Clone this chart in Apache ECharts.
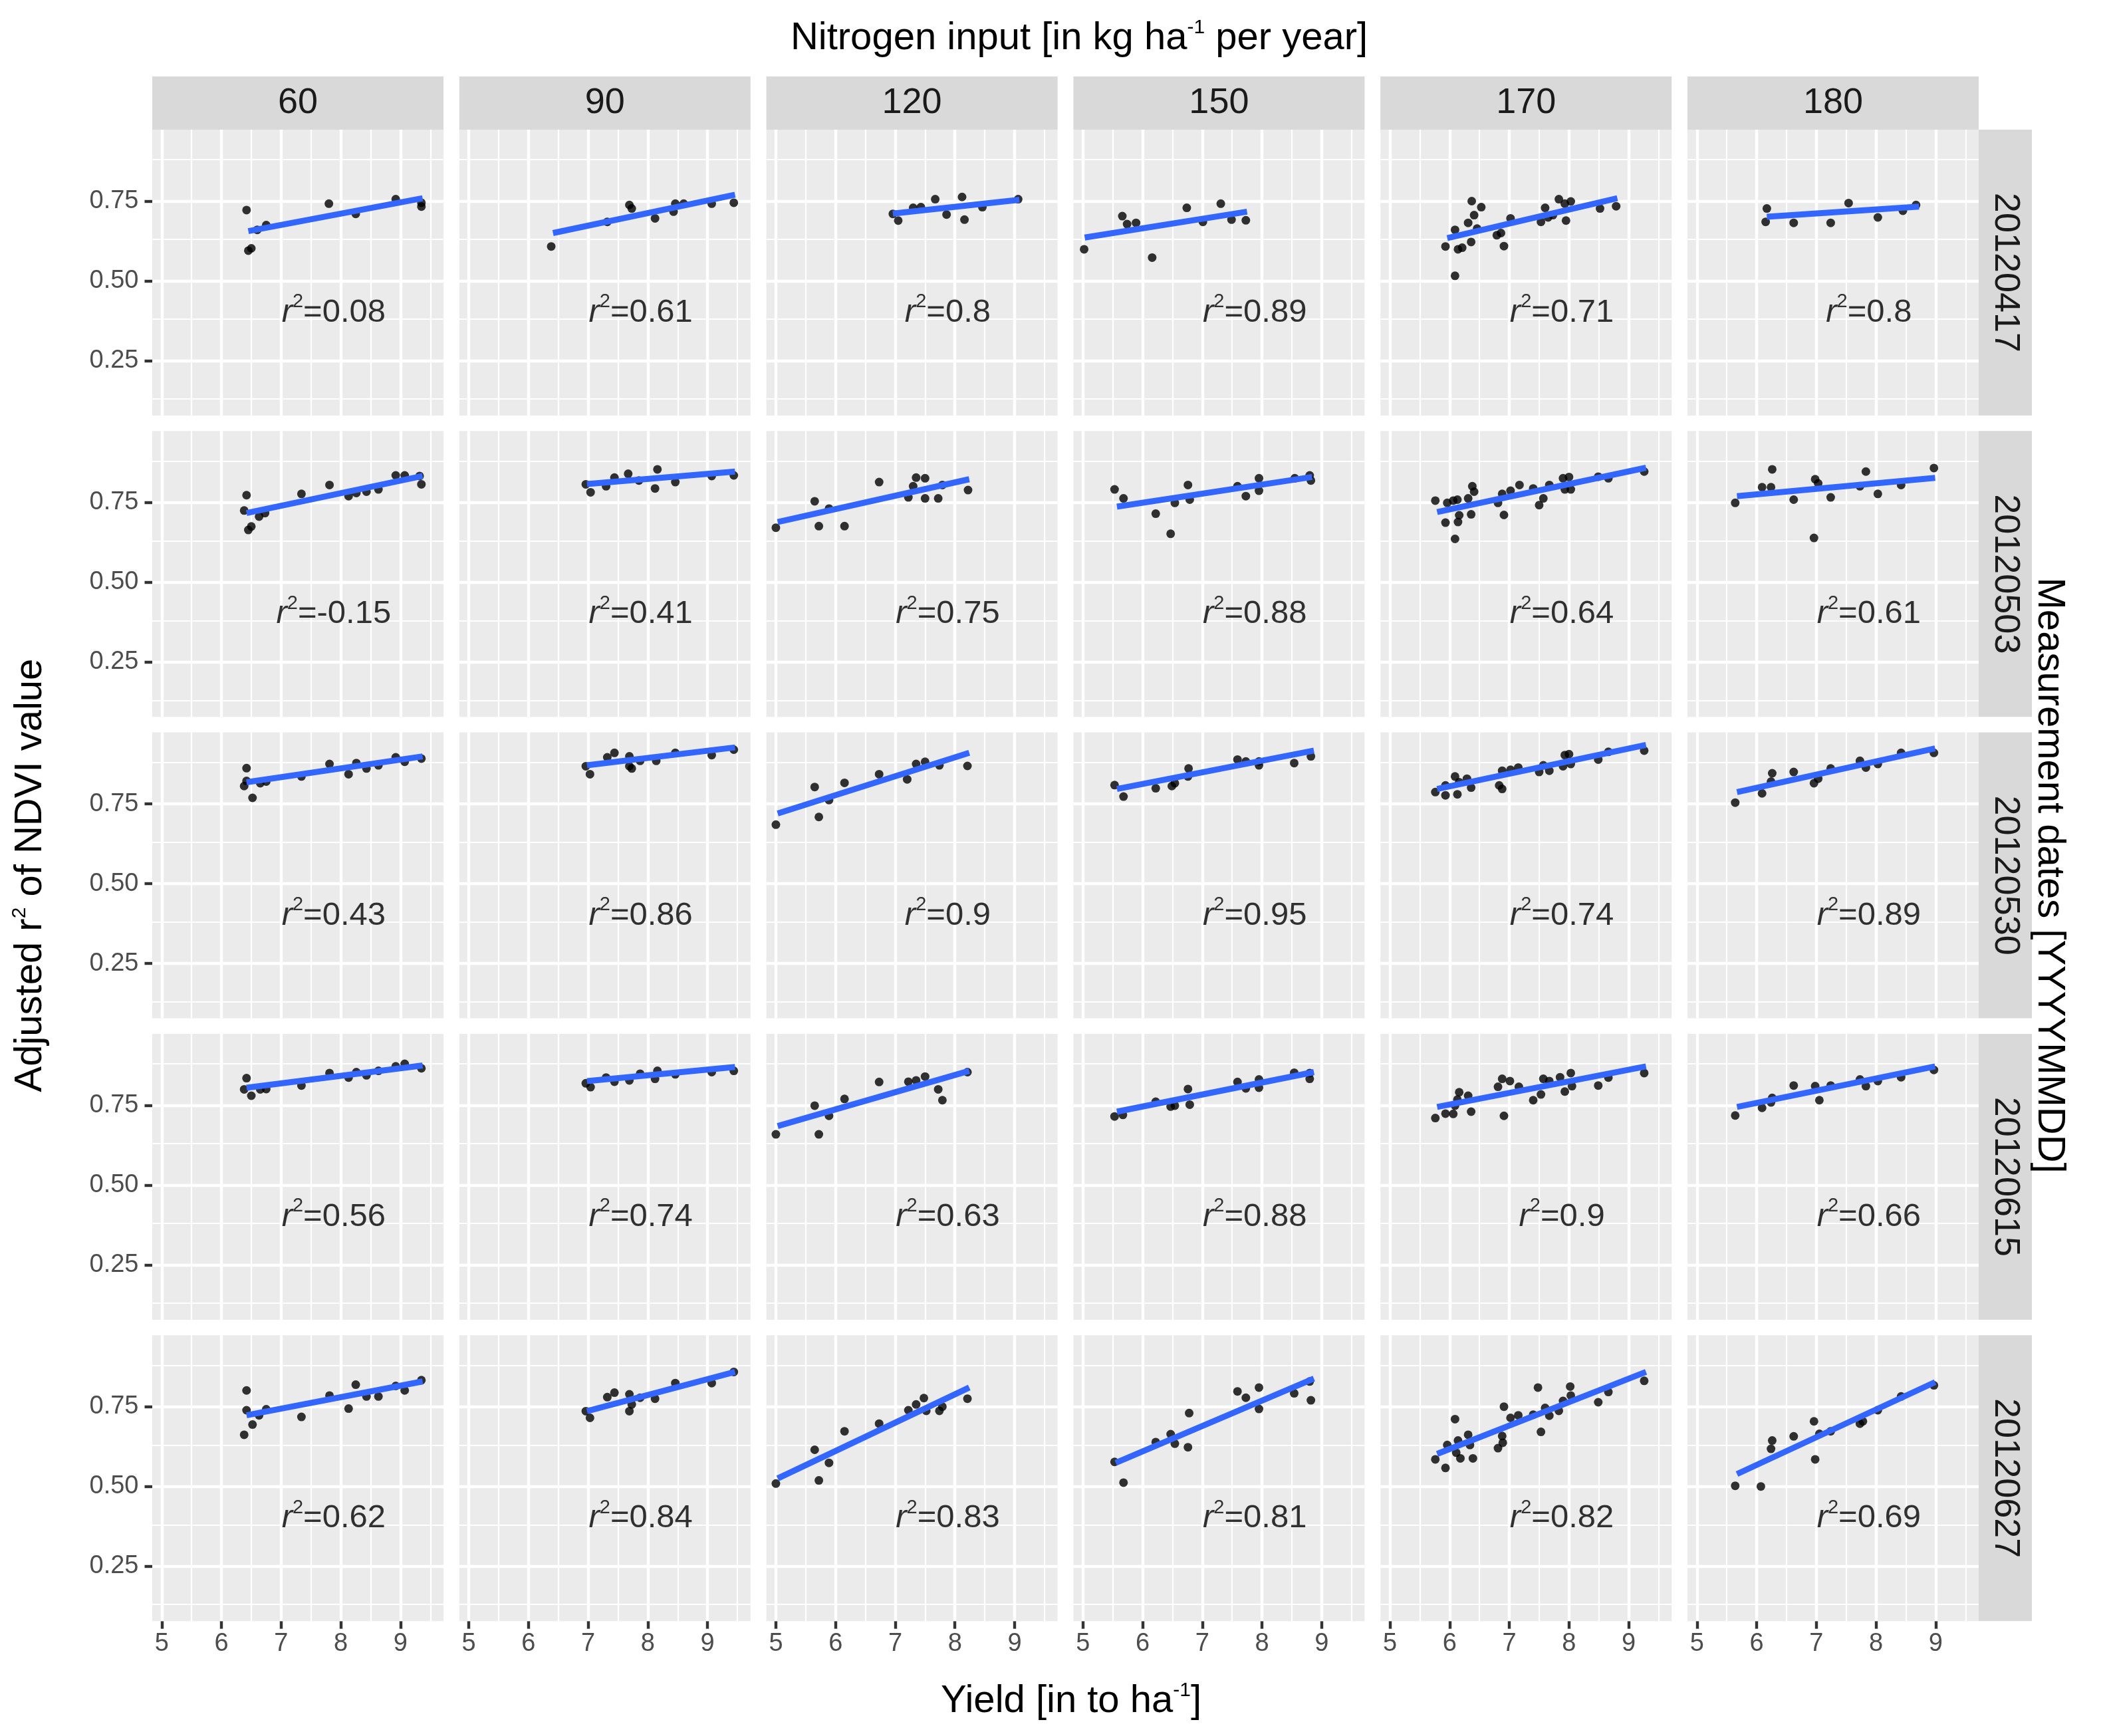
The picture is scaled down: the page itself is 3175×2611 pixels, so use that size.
<!DOCTYPE html>
<html><head><meta charset="utf-8">
<script src="https://cdn.jsdelivr.net/npm/echarts@6/dist/echarts.min.js"></script>
<style>html,body{margin:0;padding:0;background:#fff}#chart{width:3175px;height:2611px}</style>
</head><body><div id="chart"></div>
<script>
const FONT = "'Liberation Sans', Arial, Helvetica, sans-serif";

// ---- categories / ticks ----
const nitrogenLevels = ['60','90','120','150','170','180'];
const measurementDates = ['20120417','20120503','20120530','20120615','20120627'];
const xBreaks = [5,6,7,8,9];
const xMinorBreaks = [5.5,6.5,7.5,8.5,9.5];
const yBreaks = [0.25,0.5,0.75];
const yBreakLabels = ['0.25','0.50','0.75'];
const yMinorBreaks = [0.125,0.375,0.625,0.875];
const xLimits = [4.84, 9.72];
const yLimits = [0.078, 0.974];
const r2Pos = [7.88, 0.40];

// ---- r2 labels ----
const r2_20120417 = ['0.08','0.61','0.8','0.89','0.71','0.8'];
const r2_20120503 = ['-0.15','0.41','0.75','0.88','0.64','0.61'];
const r2_20120530 = ['0.43','0.86','0.9','0.95','0.74','0.89'];
const r2_20120615 = ['0.56','0.74','0.63','0.88','0.9','0.66'];
const r2_20120627 = ['0.62','0.84','0.83','0.81','0.82','0.69'];

// ---- fitted lines [x1,y1,x2,y2] per nitrogen level ----
const fit_20120417 = [[6.45,0.656,9.37,0.759],[6.41,0.650,9.46,0.770],[6.96,0.711,9.08,0.754],[5.03,0.636,7.75,0.717],[5.96,0.634,8.81,0.759],[6.17,0.701,8.72,0.733]];
const fit_20120503 = [[6.42,0.717,9.37,0.833],[6.98,0.808,9.46,0.847],[5.03,0.689,8.24,0.823],[5.57,0.737,8.84,0.830],[5.79,0.720,9.29,0.859],[5.67,0.770,8.99,0.827]];
const fit_20120530 = [[6.42,0.818,9.37,0.899],[6.98,0.871,9.46,0.927],[5.03,0.720,8.24,0.910],[5.57,0.797,8.87,0.917],[5.79,0.797,9.29,0.935],[5.67,0.787,8.99,0.924]];
const fit_20120615 = [[6.42,0.805,9.37,0.875],[6.98,0.826,9.46,0.870],[5.03,0.685,8.24,0.858],[5.57,0.730,8.87,0.854],[5.79,0.745,9.29,0.872],[5.67,0.745,8.99,0.872]];
const fit_20120627 = [[6.42,0.723,9.37,0.829],[6.98,0.736,9.46,0.859],[5.03,0.525,8.24,0.810],[5.55,0.574,8.87,0.838],[5.79,0.602,9.29,0.859],[5.67,0.539,8.99,0.827]];

// ---- points [yield, adjusted r2] ----
const pts_20120417_60 = [[6.42,0.722],[6.45,0.595],[6.50,0.602],[6.60,0.660],[6.75,0.675],[7.80,0.742],[8.25,0.710],[8.92,0.756],[9.35,0.733],[9.35,0.745]];
const pts_20120417_90 = [[6.38,0.608],[7.32,0.685],[7.69,0.738],[7.73,0.727],[8.12,0.696],[8.43,0.717],[8.46,0.742],[8.60,0.742],[9.07,0.742],[9.44,0.745]];
const pts_20120417_120 = [[6.96,0.710],[7.05,0.689],[7.30,0.729],[7.43,0.731],[7.67,0.756],[7.86,0.708],[8.12,0.763],[8.16,0.692],[8.46,0.731],[9.06,0.756]];
const pts_20120417_150 = [[5.02,0.599],[5.66,0.703],[5.74,0.678],[5.89,0.682],[6.16,0.573],[6.74,0.729],[7.01,0.685],[7.31,0.742],[7.49,0.692],[7.73,0.690]];
const pts_20120417_170 = [[5.93,0.608],[6.09,0.660],[6.09,0.516],[6.14,0.599],[6.21,0.604],[6.31,0.682],[6.37,0.750],[6.36,0.622],[6.41,0.706],[6.46,0.664],[6.53,0.731],[6.79,0.643],[6.86,0.650],[6.91,0.609],[7.02,0.696],[7.53,0.685],[7.60,0.729],[7.65,0.699],[7.73,0.706],[7.83,0.756],[7.93,0.742],[7.95,0.689],[8.03,0.749],[8.52,0.727],[8.79,0.734]];
const pts_20120417_180 = [[6.17,0.727],[6.15,0.685],[6.62,0.682],[7.24,0.682],[7.54,0.744],[8.03,0.699],[8.45,0.720],[8.67,0.738]];

const pts_20120503_60 = [[6.42,0.773],[6.38,0.725],[6.45,0.664],[6.50,0.675],[6.63,0.706],[6.73,0.717],[7.34,0.777],[7.81,0.805],[8.13,0.770],[8.26,0.780],[8.43,0.784],[8.63,0.791],[8.92,0.835],[9.07,0.835],[9.35,0.807],[9.32,0.833]];
const pts_20120503_90 = [[6.96,0.807],[7.04,0.782],[7.30,0.801],[7.44,0.828],[7.67,0.840],[7.85,0.819],[8.12,0.794],[8.16,0.854],[8.46,0.814],[9.07,0.833],[9.44,0.835]];
const pts_20120503_120 = [[5.00,0.671],[5.65,0.754],[5.72,0.676],[5.89,0.731],[6.15,0.676],[6.73,0.814],[7.22,0.766],[7.30,0.801],[7.35,0.828],[7.50,0.826],[7.50,0.763],[7.72,0.763],[7.79,0.805],[8.22,0.789]];
const pts_20120503_150 = [[5.53,0.791],[5.68,0.763],[6.22,0.715],[6.47,0.652],[6.54,0.749],[6.76,0.805],[6.79,0.759],[7.59,0.801],[7.73,0.770],[7.95,0.826],[7.95,0.787],[8.55,0.826],[8.80,0.835],[8.82,0.819]];
const pts_20120503_170 = [[5.76,0.756],[5.93,0.687],[5.96,0.749],[6.06,0.756],[6.09,0.636],[6.13,0.759],[6.14,0.689],[6.16,0.710],[6.31,0.763],[6.36,0.713],[6.38,0.801],[6.41,0.784],[6.81,0.749],[6.88,0.777],[6.91,0.711],[7.02,0.787],[7.17,0.805],[7.40,0.794],[7.50,0.742],[7.57,0.763],[7.67,0.805],[7.90,0.826],[7.93,0.791],[8.00,0.830],[8.03,0.791],[8.49,0.831],[8.66,0.826],[9.26,0.847]];
const pts_20120503_180 = [[5.64,0.749],[6.09,0.798],[6.24,0.798],[6.26,0.854],[6.62,0.759],[6.98,0.823],[7.03,0.810],[6.96,0.639],[7.24,0.766],[7.73,0.801],[7.83,0.847],[8.03,0.777],[8.42,0.805],[8.97,0.858]];

const pts_20120530_60 = [[6.42,0.862],[6.38,0.806],[6.42,0.822],[6.52,0.769],[6.65,0.815],[6.75,0.820],[7.34,0.836],[7.81,0.875],[8.13,0.843],[8.26,0.878],[8.43,0.861],[8.63,0.871],[8.92,0.896],[9.07,0.882],[9.35,0.892]];
const pts_20120530_90 = [[6.96,0.868],[7.03,0.843],[7.32,0.896],[7.44,0.910],[7.69,0.899],[7.69,0.868],[7.73,0.861],[7.87,0.885],[8.14,0.885],[8.46,0.910],[9.07,0.903],[9.44,0.920]];
const pts_20120530_120 = [[5.00,0.685],[5.65,0.803],[5.72,0.709],[5.89,0.762],[6.15,0.816],[6.73,0.843],[7.20,0.827],[7.35,0.875],[7.50,0.882],[7.74,0.871],[8.21,0.869]];
const pts_20120530_150 = [[5.53,0.809],[5.68,0.773],[6.22,0.799],[6.49,0.806],[6.54,0.815],[6.77,0.861],[6.76,0.836],[7.59,0.889],[7.73,0.883],[7.95,0.883],[7.95,0.871],[8.54,0.878],[8.82,0.899]];
const pts_20120530_170 = [[5.76,0.787],[5.93,0.808],[5.93,0.777],[6.09,0.836],[6.13,0.780],[6.16,0.818],[6.29,0.829],[6.36,0.801],[6.83,0.808],[6.88,0.797],[6.88,0.854],[7.02,0.857],[7.15,0.864],[7.50,0.850],[7.57,0.871],[7.67,0.854],[7.90,0.868],[7.93,0.903],[8.00,0.906],[8.03,0.875],[8.49,0.889],[8.66,0.913],[9.26,0.917]];
const pts_20120530_180 = [[5.64,0.754],[6.09,0.783],[6.24,0.820],[6.26,0.846],[6.62,0.850],[6.96,0.815],[7.03,0.829],[7.24,0.861],[7.73,0.885],[7.83,0.864],[8.03,0.875],[8.42,0.910],[8.97,0.910]];

const pts_20120615_60 = [[6.42,0.835],[6.38,0.800],[6.50,0.780],[6.65,0.800],[6.75,0.801],[7.34,0.812],[7.81,0.851],[8.13,0.837],[8.26,0.854],[8.43,0.844],[8.63,0.858],[8.92,0.872],[9.07,0.880],[9.35,0.866]];
const pts_20120615_90 = [[6.96,0.819],[7.04,0.807],[7.30,0.837],[7.44,0.824],[7.69,0.828],[7.87,0.849],[8.12,0.833],[8.16,0.858],[8.46,0.847],[9.07,0.854],[9.44,0.858]];
const pts_20120615_120 = [[5.00,0.659],[5.65,0.749],[5.72,0.659],[5.89,0.717],[6.15,0.770],[6.73,0.823],[7.22,0.824],[7.35,0.828],[7.50,0.840],[7.72,0.800],[7.79,0.766],[8.21,0.854]];
const pts_20120615_150 = [[5.53,0.715],[5.67,0.720],[6.22,0.761],[6.47,0.746],[6.54,0.749],[6.76,0.801],[6.79,0.752],[7.59,0.823],[7.73,0.803],[7.95,0.831],[7.95,0.805],[8.54,0.852],[8.80,0.851],[8.80,0.833]];
const pts_20120615_170 = [[5.76,0.710],[5.93,0.724],[6.06,0.723],[6.09,0.749],[6.13,0.768],[6.16,0.791],[6.31,0.780],[6.36,0.730],[6.81,0.808],[6.88,0.833],[6.91,0.717],[7.01,0.826],[7.16,0.808],[7.40,0.766],[7.53,0.784],[7.57,0.833],[7.67,0.826],[7.85,0.838],[7.93,0.793],[8.03,0.851],[8.05,0.810],[8.49,0.812],[8.66,0.837],[9.26,0.851]];
const pts_20120615_180 = [[5.64,0.718],[6.09,0.742],[6.24,0.759],[6.26,0.773],[6.62,0.812],[6.98,0.810],[7.05,0.766],[7.24,0.812],[7.73,0.831],[7.83,0.810],[8.03,0.826],[8.42,0.838],[8.97,0.861]];

const pts_20120627_60 = [[6.42,0.801],[6.42,0.739],[6.38,0.662],[6.52,0.694],[6.63,0.723],[6.75,0.742],[7.34,0.718],[7.81,0.785],[8.13,0.744],[8.25,0.819],[8.43,0.782],[8.63,0.782],[8.92,0.815],[9.07,0.801],[9.35,0.833]];
const pts_20120627_90 = [[6.96,0.736],[7.03,0.715],[7.32,0.780],[7.44,0.794],[7.69,0.789],[7.69,0.736],[7.73,0.757],[7.87,0.778],[8.12,0.775],[8.46,0.824],[9.07,0.824],[9.44,0.859]];
const pts_20120627_120 = [[5.00,0.509],[5.65,0.615],[5.72,0.519],[5.89,0.574],[6.15,0.673],[6.73,0.697],[7.22,0.739],[7.35,0.757],[7.48,0.777],[7.52,0.737],[7.74,0.737],[7.79,0.750],[8.21,0.775]];
const pts_20120627_150 = [[5.53,0.577],[5.68,0.512],[6.22,0.639],[6.47,0.664],[6.54,0.634],[6.76,0.623],[6.78,0.730],[7.59,0.798],[7.73,0.778],[7.95,0.810],[7.95,0.743],[8.54,0.792],[8.82,0.770],[8.80,0.829]];
const pts_20120627_170 = [[5.76,0.585],[5.93,0.558],[5.96,0.630],[6.09,0.711],[6.11,0.606],[6.14,0.644],[6.18,0.588],[6.31,0.662],[6.34,0.630],[6.39,0.588],[6.81,0.620],[6.88,0.658],[6.89,0.637],[6.91,0.750],[7.02,0.715],[7.15,0.723],[7.40,0.725],[7.48,0.810],[7.53,0.671],[7.60,0.746],[7.67,0.722],[7.83,0.737],[7.90,0.768],[8.02,0.813],[8.03,0.785],[8.49,0.764],[8.66,0.796],[9.26,0.831]];
const pts_20120627_180 = [[5.64,0.502],[6.07,0.500],[6.24,0.618],[6.26,0.644],[6.62,0.657],[6.96,0.704],[6.98,0.585],[7.05,0.665],[7.24,0.673],[7.73,0.697],[7.78,0.704],[8.03,0.739],[8.42,0.782],[8.97,0.817]];

// ---- lookup tables built from the arrays above ----
const r2ByDate = [r2_20120417, r2_20120503, r2_20120530, r2_20120615, r2_20120627];
const fitByDate = [fit_20120417, fit_20120503, fit_20120530, fit_20120615, fit_20120627];
const ptsByDate = [
  [pts_20120417_60, pts_20120417_90, pts_20120417_120, pts_20120417_150, pts_20120417_170, pts_20120417_180],
  [pts_20120503_60, pts_20120503_90, pts_20120503_120, pts_20120503_150, pts_20120503_170, pts_20120503_180],
  [pts_20120530_60, pts_20120530_90, pts_20120530_120, pts_20120530_150, pts_20120530_170, pts_20120530_180],
  [pts_20120615_60, pts_20120615_90, pts_20120615_120, pts_20120615_150, pts_20120615_170, pts_20120615_180],
  [pts_20120627_60, pts_20120627_90, pts_20120627_120, pts_20120627_150, pts_20120627_170, pts_20120627_180]
];

// ---- layout ----
const L = {left0: 229, top0: 195, w: 438, h: 430, colStep: 461.8, rowStep: 453.3, strip: 80};
const nRows = measurementDates.length, nCols = nitrogenLevels.length;

const chart = echarts.init(document.getElementById('chart'), null, {renderer: 'canvas', width: 3175, height: 2611});
const grids = [], xAxes = [], yAxes = [], series = [], graphics = [];

measurementDates.forEach((d, r) => {
  nitrogenLevels.forEach((n, c) => {
    const i = r * nCols + c;
    const left = L.left0 + c * L.colStep, top = L.top0 + r * L.rowStep;
    grids.push({left: left, top: top, width: L.w, height: L.h, show: true, backgroundColor: '#EBEBEB', borderWidth: 0, containLabel: false});
    xAxes.push({type: 'value', gridIndex: i, min: xLimits[0], max: xLimits[1],
      axisLine: {show: false}, splitLine: {show: false},
      axisTick: {show: r === nRows - 1, customValues: xBreaks, length: 11.5, lineStyle: {color: '#333333', width: 4.4}},
      axisLabel: {show: r === nRows - 1, customValues: xBreaks, margin: 15, fontSize: 38, color: '#4D4D4D', fontFamily: FONT}});
    yAxes.push({type: 'value', gridIndex: i, min: yLimits[0], max: yLimits[1],
      axisLine: {show: false}, splitLine: {show: false},
      axisTick: {show: c === 0, customValues: yBreaks, length: 11.5, lineStyle: {color: '#333333', width: 4.4}},
      axisLabel: {show: c === 0, customValues: yBreaks, margin: 20.5, fontSize: 38, color: '#4D4D4D', fontFamily: FONT,
        formatter: function (v) { const k = yBreaks.findIndex(b => Math.abs(b - v) < 1e-9); return k >= 0 ? yBreakLabels[k] : ''; }}});
    const gl = [];
    xMinorBreaks.forEach(v => gl.push({xAxis: v, lineStyle: {width: 2.2}}));
    yMinorBreaks.forEach(v => gl.push({yAxis: v, lineStyle: {width: 2.2}}));
    xBreaks.forEach(v => gl.push({xAxis: v, lineStyle: {width: 4.4}}));
    yBreaks.forEach(v => gl.push({yAxis: v, lineStyle: {width: 4.4}}));
    series.push({type: 'scatter', xAxisIndex: i, yAxisIndex: i, data: ptsByDate[r][c], symbolSize: 13,
      itemStyle: {color: '#000000'}, z: 3, silent: true, animation: false,
      markLine: {silent: true, z: 1, animation: false, symbol: ['none', 'none'], label: {show: false},
        emphasis: {disabled: true}, lineStyle: {color: '#FFFFFF', type: 'solid', opacity: 1}, data: gl}});
    const f = fitByDate[r][c];
    series.push({type: 'line', xAxisIndex: i, yAxisIndex: i, data: [[f[0], f[1]], [f[2], f[3]]], symbol: 'none',
      lineStyle: {color: '#3366FF', width: 9, cap: 'butt'}, z: 4, silent: true, animation: false});
    series.push({type: 'scatter', xAxisIndex: i, yAxisIndex: i, data: [r2Pos], symbolSize: 1,
      itemStyle: {color: 'rgba(0,0,0,0)'}, z: 5, silent: true, animation: false,
      label: {show: true, position: 'inside', fontSize: 49, fontFamily: FONT, color: '#000',
        formatter: '{i|r}{s|2}{n|=' + r2ByDate[r][c] + '}',
        rich: {
          i: {fontFamily: FONT, fontSize: 49, fontStyle: 'italic', color: '#000'},
          s: {fontFamily: FONT, fontSize: 29, color: '#000', verticalAlign: 'top', height: 17, lineHeight: 17},
          n: {fontFamily: FONT, fontSize: 49, color: '#000'}
        }}});
  });
});

// strips
nitrogenLevels.forEach((n, c) => {
  const left = L.left0 + c * L.colStep;
  graphics.push({type: 'rect', shape: {x: left, y: L.top0 - L.strip, width: L.w, height: L.strip}, style: {fill: '#D9D9D9'}, silent: true});
  graphics.push({type: 'text', x: left + L.w / 2, y: L.top0 - L.strip / 2, silent: true,
    style: {text: n, fill: '#1A1A1A', fontSize: 54, fontFamily: FONT, align: 'center', verticalAlign: 'middle'}});
});
const stripX = L.left0 + (nCols - 1) * L.colStep + L.w;
measurementDates.forEach((d, r) => {
  const top = L.top0 + r * L.rowStep;
  graphics.push({type: 'rect', shape: {x: stripX, y: top, width: L.strip, height: L.h}, style: {fill: '#D9D9D9'}, silent: true});
  graphics.push({type: 'text', x: stripX + L.strip / 2, y: top + L.h / 2, rotation: -Math.PI / 2, silent: true,
    style: {text: d, fill: '#1A1A1A', fontSize: 54, fontFamily: FONT, align: 'center', verticalAlign: 'middle'}});
});

// titles
const titleRich = {
  a: {fontSize: 58, fontFamily: FONT, fill: '#000'},
  s: {fontSize: 30, fontFamily: FONT, fill: '#000', verticalAlign: 'top', height: 26, lineHeight: 26}
};
const midY = L.top0 + ((nRows - 1) * L.rowStep + L.h) / 2;
graphics.push({type: 'text', x: 1623, y: 58, silent: true,
  style: {text: '{a|Nitrogen input [in kg ha}{s|-1}{a| per year]}', rich: titleRich, align: 'center', verticalAlign: 'middle'}});
graphics.push({type: 'text', x: 1611, y: 2559, silent: true,
  style: {text: '{a|Yield [in to ha}{s|-1}{a|]}', rich: titleRich, align: 'center', verticalAlign: 'middle'}});
graphics.push({type: 'text', x: 46, y: midY, rotation: Math.PI / 2, silent: true,
  style: {text: '{a|Adjusted r}{s|2}{a| of NDVI value}', rich: titleRich, align: 'center', verticalAlign: 'middle'}});
graphics.push({type: 'text', x: 3082, y: midY, rotation: -Math.PI / 2, silent: true,
  style: {text: '{a|Measurement dates [YYYYMMDD]}', rich: titleRich, align: 'center', verticalAlign: 'middle'}});

chart.setOption({
  backgroundColor: '#FFFFFF',
  animation: false,
  grid: grids,
  xAxis: xAxes,
  yAxis: yAxes,
  series: series,
  graphic: {elements: graphics}
});
</script></body></html>
